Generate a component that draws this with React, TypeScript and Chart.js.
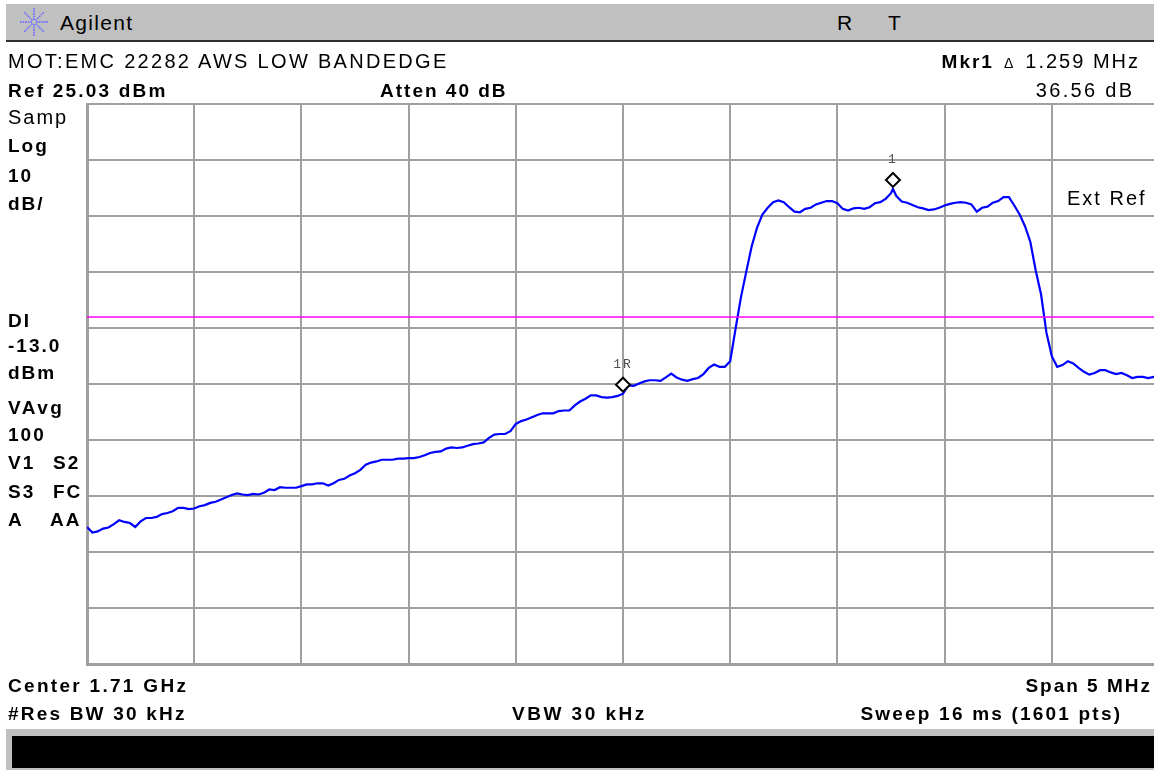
import React, { useEffect, useRef, useState } from "react";
import { Chart, registerables } from "chart.js";

Chart.register(...registerables);

// ---- Data ----
// Sweep frequencies in MHz (Center 1.71 GHz, Span 5 MHz)
const FREQ_MHZ: number[] = [
  1707.5, 1707.525, 1707.55, 1707.575, 1707.6, 1707.625, 1707.65, 1707.675, 1707.7, 1707.725,
  1707.75, 1707.775, 1707.8, 1707.825, 1707.85, 1707.875, 1707.9, 1707.925, 1707.95, 1707.975,
  1708.0, 1708.025, 1708.05, 1708.075, 1708.1, 1708.125, 1708.15, 1708.175, 1708.2, 1708.225,
  1708.25, 1708.275, 1708.3, 1708.325, 1708.35, 1708.375, 1708.4, 1708.425, 1708.45, 1708.475,
  1708.5, 1708.525, 1708.55, 1708.575, 1708.6, 1708.625, 1708.65, 1708.675, 1708.7, 1708.725,
  1708.75, 1708.775, 1708.8, 1708.825, 1708.85, 1708.875, 1708.9, 1708.925, 1708.95, 1708.975,
  1709.0, 1709.025, 1709.05, 1709.075, 1709.1, 1709.125, 1709.15, 1709.175, 1709.2, 1709.225,
  1709.25, 1709.275, 1709.3, 1709.325, 1709.35, 1709.375, 1709.4, 1709.425, 1709.45, 1709.475,
  1709.5, 1709.525, 1709.55, 1709.575, 1709.6, 1709.625, 1709.65, 1709.675, 1709.7, 1709.725,
  1709.75, 1709.775, 1709.8, 1709.825, 1709.85, 1709.875, 1709.9, 1709.925, 1709.95, 1709.975,
  1710.0, 1710.025, 1710.05, 1710.075, 1710.1, 1710.125, 1710.15, 1710.175, 1710.2, 1710.225,
  1710.25, 1710.275, 1710.3, 1710.325, 1710.35, 1710.375, 1710.4, 1710.425, 1710.45, 1710.475,
  1710.5, 1710.525, 1710.55, 1710.575, 1710.6, 1710.625, 1710.65, 1710.675, 1710.7, 1710.725,
  1710.75, 1710.775, 1710.8, 1710.825, 1710.85, 1710.875, 1710.9, 1710.925, 1710.95, 1710.975,
  1711.0, 1711.025, 1711.05, 1711.075, 1711.1, 1711.125, 1711.15, 1711.175, 1711.2, 1711.225,
  1711.25, 1711.259, 1711.275, 1711.3, 1711.325, 1711.35, 1711.375, 1711.4, 1711.425, 1711.45, 1711.475,
  1711.5, 1711.525, 1711.55, 1711.575, 1711.6, 1711.625, 1711.65, 1711.675, 1711.7, 1711.725,
  1711.75, 1711.775, 1711.8, 1711.825, 1711.85, 1711.875, 1711.9, 1711.925, 1711.95, 1711.975,
  1712.0, 1712.025, 1712.05, 1712.075, 1712.1, 1712.125, 1712.15, 1712.175, 1712.2, 1712.225,
  1712.25, 1712.275, 1712.3, 1712.325, 1712.35, 1712.375, 1712.4, 1712.425, 1712.45, 1712.475,
  1712.5,
];

// Trace level in dBm
const LEVEL_DBM: number[] = [
  -50.5, -51.5, -51.3, -50.8, -50.6, -50.0, -49.3, -49.6, -49.8, -50.5,
  -49.5, -48.9, -48.9, -48.7, -48.2, -48.0, -47.7, -47.1, -47.1, -47.3,
  -47.2, -46.8, -46.6, -46.2, -46.0, -45.6, -45.2, -44.8, -44.5, -44.7,
  -44.8, -44.6, -44.7, -44.4, -43.8, -43.9, -43.4, -43.5, -43.5, -43.5,
  -43.2, -42.9, -42.9, -42.7, -42.7, -43.1, -42.7, -42.1, -41.9, -41.3,
  -40.9, -40.3, -39.4, -39.0, -38.8, -38.5, -38.5, -38.5, -38.3, -38.3,
  -38.2, -38.2, -38.0, -37.7, -37.3, -37.1, -37.0, -36.5, -36.3, -36.4,
  -36.3, -36.0, -35.7, -35.6, -35.4, -34.6, -34.0, -33.9, -33.9, -33.4,
  -32.1, -31.6, -31.3, -30.9, -30.5, -30.2, -30.2, -30.2, -29.8, -29.7,
  -29.7, -28.8, -28.1, -27.6, -27.0, -27.0, -27.3, -27.4, -27.3, -27.1,
  -26.7, -25.2, -25.3, -24.9, -24.5, -24.3, -24.3, -24.4, -23.8, -23.1,
  -23.8, -24.2, -24.4, -24.1, -23.9, -23.2, -22.1, -21.5, -21.9, -21.9,
  -20.9, -15.1, -9.5, -4.9, -0.4, 2.9, 5.3, 6.5, 7.5, 7.8,
  7.5, 6.6, 5.8, 5.7, 6.3, 6.5, 7.1, 7.4, 7.7, 7.7,
  7.3, 6.3, 6.0, 6.4, 6.5, 6.3, 6.6, 7.3, 7.5, 8.1,
  9.1, 9.86, 8.6, 7.6, 7.4, 7.0, 6.6, 6.4, 6.1, 6.2, 6.5,
  6.9, 7.2, 7.4, 7.5, 7.4, 7.1, 5.8, 6.5, 6.7, 7.4,
  7.7, 8.4, 8.4, 6.9, 5.3, 3.2, 0.4, -4.7, -9.0, -15.8,
  -20.0, -21.9, -21.6, -20.9, -21.3, -22.1, -22.8, -23.3, -23.0, -22.5,
  -22.5, -22.9, -23.2, -23.0, -23.4, -23.9, -23.7, -23.7, -23.9, -23.7,
  -23.9,
];

// Graticule: 10 divisions of 0.5 MHz, 10 divisions of 10 dB from Ref 25.03 dBm
const X_TICKS: number[] = [1707.5, 1708.0, 1708.5, 1709.0, 1709.5, 1710.0, 1710.5, 1711.0, 1711.5, 1712.0, 1712.5];
const Y_TICKS: number[] = [25.03, 15.03, 5.03, -4.97, -14.97, -24.97, -34.97, -44.97, -54.97, -64.97, -74.97];

const DISPLAY_LINE_DBM = -13.0;

const MARKER_LABELS: string[] = ["1R", "1"];
const MARKER_FREQ_MHZ: number[] = [1710.0, 1711.259];
const MARKER_LEVEL_DBM: number[] = [-26.7, 9.86];

// ---- Layout ----
const W = 1154;
const H = 770;
const CANVAS_W = 1170;
const FONT = '"Liberation Sans", Arial, Helvetica, sans-serif';

type TxtProps = {
  x: number;
  cy: number;
  text: string;
  size?: number;
  bold?: boolean;
  ls?: number;
  right?: boolean;
  color?: string;
};

function Txt({ x, cy, text, size = 20, bold = false, ls = 2, right = false, color = "#000" }: TxtProps) {
  const style: React.CSSProperties = {
    position: "absolute",
    top: cy - 0.4885 * size,
    fontFamily: FONT,
    fontSize: size,
    lineHeight: `${size}px`,
    fontWeight: bold ? 700 : 400,
    letterSpacing: ls,
    whiteSpace: "pre",
    color,
  };
  if (right) {
    style.right = W - x;
    style.marginRight = -ls;
  } else {
    style.left = x;
  }
  return <div style={style}>{text}</div>;
}

function Logo() {
  const cx = 34;
  const cy = 22;
  const dots: JSX.Element[] = [];
  for (let a = 0; a < 8; a++) {
    const ang = (a * Math.PI) / 4;
    for (let r = 3; r <= 13; r += 2.5) {
      dots.push(
        <circle key={`${a}-${r}`} cx={cx + Math.cos(ang) * r} cy={cy + Math.sin(ang) * r} r={0.9} fill="#6b6bff" />
      );
    }
  }
  return (
    <svg width={60} height={44} style={{ position: "absolute", left: 0, top: 0 }}>
      {dots}
    </svg>
  );
}

const markerPlugin = {
  id: "analyzerMarkers",
  afterDatasetsDraw(chart: any) {
    const ctx = chart.ctx as CanvasRenderingContext2D;
    const xs = chart.scales.x;
    const ys = chart.scales.y;
    ctx.save();
    for (let i = 0; i < MARKER_FREQ_MHZ.length; i++) {
      const px = xs.getPixelForValue(MARKER_FREQ_MHZ[i]);
      const py = ys.getPixelForValue(MARKER_LEVEL_DBM[i]);
      const cx = px;
      const cy = py - 9;
      const hw = 7;
      const hh = 7;
      ctx.beginPath();
      ctx.moveTo(cx, cy - hh);
      ctx.lineTo(cx + hw, cy);
      ctx.lineTo(cx, cy + hh);
      ctx.lineTo(cx - hw, cy);
      ctx.closePath();
      ctx.fillStyle = "#ffffff";
      ctx.fill();
      ctx.lineWidth = 2;
      ctx.strokeStyle = "#000000";
      ctx.stroke();
    }
    ctx.restore();
  },
};

export default function App() {
  const canvasRef = useRef<HTMLCanvasElement | null>(null);
  const [marks, setMarks] = useState<{ label: string; x: number; y: number }[]>([]);

  useEffect(() => {
    const canvas = canvasRef.current;
    if (!canvas) return;
    const grid = { color: "#a0a0a0", lineWidth: 2, drawTicks: false };
    const chart = new Chart(canvas, {
      type: "line",
      data: {
        datasets: [
          {
            label: "DI",
            data: [
              { x: X_TICKS[0], y: DISPLAY_LINE_DBM },
              { x: X_TICKS[X_TICKS.length - 1], y: DISPLAY_LINE_DBM },
            ],
            borderColor: "#ff00ff",
            borderWidth: 1.5,
            pointRadius: 0,
            order: 0,
          },
          {
            label: "Trace",
            data: FREQ_MHZ.map((f, i) => ({ x: f, y: LEVEL_DBM[i] })),
            borderColor: "#0000ff",
            borderWidth: 2.2,
            pointRadius: 0,
            tension: 0,
            order: 1,
          },
        ],
      },
      options: {
        animation: false,
        responsive: false,
        maintainAspectRatio: false,
        layout: { padding: { left: 87, top: 104, right: CANVAS_W - 1159, bottom: H - 664 } },
        plugins: { legend: { display: false }, tooltip: { enabled: false } },
        scales: {
          x: {
            type: "linear",
            min: X_TICKS[0],
            max: X_TICKS[X_TICKS.length - 1],
            ticks: { display: false },
            grid,
            border: { display: true, color: "#a0a0a0", width: 3 },
            afterBuildTicks: (s: any) => {
              s.ticks = X_TICKS.map((v) => ({ value: v }));
            },
          },
          y: {
            type: "linear",
            min: Y_TICKS[Y_TICKS.length - 1],
            max: Y_TICKS[0],
            ticks: { display: false },
            grid,
            border: { display: true, color: "#a0a0a0", width: 3 },
            afterBuildTicks: (s: any) => {
              s.ticks = Y_TICKS.map((v) => ({ value: v }));
            },
          },
        },
      },
      plugins: [markerPlugin],
    } as any);
    setMarks(
      MARKER_LABELS.map((label, i) => ({
        label,
        x: chart.scales.x.getPixelForValue(MARKER_FREQ_MHZ[i]),
        y: chart.scales.y.getPixelForValue(MARKER_LEVEL_DBM[i]),
      }))
    );
    return () => chart.destroy();
  }, []);

  return (
    <div
      style={{
        position: "fixed",
        left: 0,
        top: 0,
        width: W,
        height: H,
        overflow: "hidden",
        background: "#ffffff",
      }}
    >
      <canvas
        ref={canvasRef}
        width={CANVAS_W}
        height={H}
        style={{ position: "absolute", left: 0, top: 0, width: CANVAS_W, height: H }}
      />

      {/* Title bar */}
      <div style={{ position: "absolute", left: 6, top: 4, width: W - 6, height: 36, background: "#c0c0c0" }} />
      <div style={{ position: "absolute", left: 6, top: 40, width: W - 6, height: 2, background: "#303030" }} />
      <Logo />
      <Txt x={60} cy={22.5} text="Agilent" size={21} ls={1.3} />
      <Txt x={837} cy={22} text="R" size={21} ls={0} />
      <Txt x={888} cy={22} text="T" size={21} ls={0} />

      {/* Header */}
      <Txt x={8} cy={61} text="MOT:EMC 22282 AWS LOW BANDEDGE" size={20} ls={2.3} />
      <div
        style={{
          position: "absolute",
          right: W - 1138,
          top: 61 - 0.4885 * 20,
          fontFamily: FONT,
          fontSize: 20,
          lineHeight: "20px",
          whiteSpace: "pre",
          display: "flex",
          alignItems: "baseline",
        }}
      >
        <span style={{ fontWeight: 700, fontSize: 19, letterSpacing: 2 }}>Mkr1</span>
        <span style={{ fontSize: 14, margin: "0 12px 0 10px" }}>Δ</span>
        <span style={{ letterSpacing: 2, marginRight: -2 }}>1.259 MHz</span>
      </div>
      <Txt x={8} cy={90.5} text="Ref 25.03 dBm" size={19} bold ls={2.2} />
      <Txt x={380} cy={90.5} text="Atten 40 dB" size={19} bold ls={2} />
      <Txt x={1132} cy={90} text="36.56 dB" size={20} ls={2.3} right />

      {/* Left annotations */}
      <Txt x={8} cy={117} text="Samp" size={20} ls={2} />
      <Txt x={8} cy={145} text="Log" size={19} bold ls={2} />
      <Txt x={8} cy={175} text="10" size={19} bold ls={2} />
      <Txt x={8} cy={203} text="dB/" size={19} bold ls={2} />
      <Txt x={8} cy={320} text="DI" size={19} bold ls={2} />
      <Txt x={8} cy={345} text="-13.0" size={19} bold ls={2} />
      <Txt x={8} cy={372} text="dBm" size={19} bold ls={2} />
      <Txt x={8} cy={407} text="VAvg" size={19} bold ls={2.5} />
      <Txt x={8} cy={434} text="100" size={19} bold ls={2} />
      <Txt x={8} cy={462} text="V1" size={19} bold ls={2} />
      <Txt x={53} cy={462} text="S2" size={19} bold ls={2} />
      <Txt x={8} cy={491} text="S3" size={19} bold ls={2} />
      <Txt x={53} cy={491} text="FC" size={19} bold ls={2} />
      <Txt x={8} cy={519} text="A" size={19} bold ls={2} />
      <Txt x={50} cy={519} text="AA" size={19} bold ls={2} />

      <Txt x={1067} cy={197.5} text="Ext Ref" size={20} ls={2} />

      {/* Marker labels */}
      {marks.map((m) => (
        <div
          key={m.label}
          style={{
            position: "absolute",
            left: m.x - 20,
            width: 40,
            textAlign: "center",
            top: m.y - 9 - 19.5 - 7,
            fontFamily: '"Liberation Mono", "DejaVu Sans Mono", monospace',
            fontSize: 13,
            lineHeight: "14px",
            letterSpacing: 2,
            color: "#505050",
          }}
        >
          {m.label}
        </div>
      ))}

      {/* Footer */}
      <Txt x={8} cy={685} text="Center 1.71 GHz" size={19} bold ls={2.3} />
      <Txt x={1150} cy={685} text="Span 5 MHz" size={19} bold ls={2} right />
      <Txt x={8} cy={713} text="#Res BW 30 kHz" size={19} bold ls={2.2} />
      <Txt x={512} cy={713} text="VBW 30 kHz" size={19} bold ls={2.5} />
      <Txt x={1120} cy={713} text="Sweep 16 ms (1601 pts)" size={19} bold ls={2.2} right />

      {/* Status bar */}
      <div style={{ position: "absolute", left: 6, top: 729, width: W - 6, height: 41, background: "#c0c0c0" }} />
      <div style={{ position: "absolute", left: 12, top: 736, width: W - 12, height: 32, background: "#000000" }} />
    </div>
  );
}
